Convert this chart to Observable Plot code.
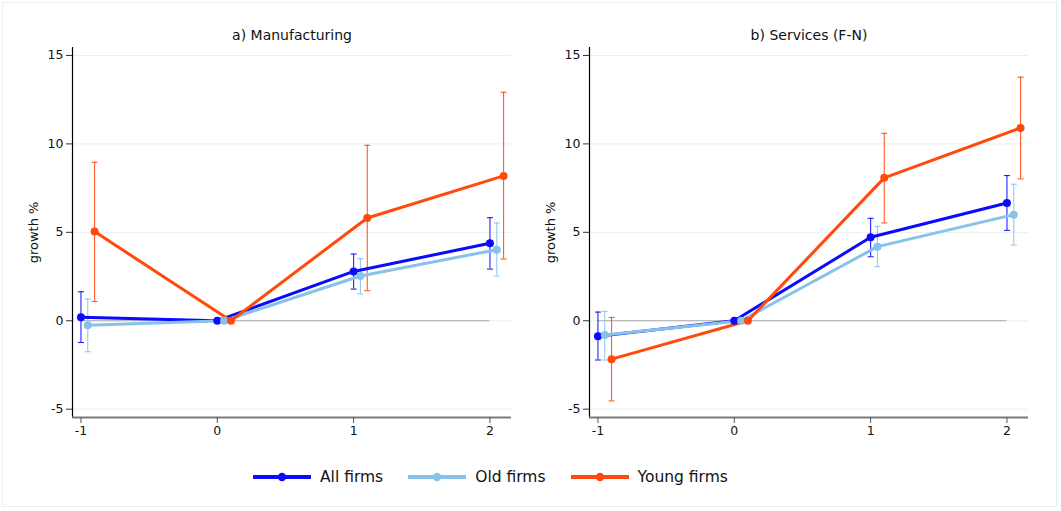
<!DOCTYPE html>
<html>
<head>
<meta charset="utf-8">
<script src="https://cdn.jsdelivr.net/npm/d3@7"></script>
<script src="https://cdn.jsdelivr.net/npm/@observablehq/plot@0.6"></script>
<style>
  html, body { margin: 0; padding: 0; background: #fff; }
  #wrap { position: relative; width: 1061px; height: 511px; overflow: hidden; font-family: "DejaVu Sans", sans-serif; }
  #border { position: absolute; left: 2px; top: 2px; width: 1055px; height: 505px; border: 1px solid #e9f1f1; box-sizing: border-box; }
  .panel { position: absolute; top: 0; }
  #legend { position: absolute; top: 468px; left: 253px; display: flex; align-items: center; font-size: 15.5px; color: #111; }
  #legend .item { display: flex; align-items: center; margin-right: 25px; }
  #legend svg { margin-right: 9px; display: block; }
</style>
</head>
<body>
<div id="wrap">
  <div id="border"></div>
  <div id="left" class="panel" style="left:0px"></div>
  <div id="right" class="panel" style="left:530px"></div>
  <div id="legend"></div>
</div>
<script>
// ---- data ----
const years = [-1, 0, 1, 2];
const seriesNames = ["All firms", "Old firms", "Young firms"];
const seriesColors = ["#0a0aff", "#86c2ea", "#ff4a0c"];
const yTicks = [-5, 0, 5, 10, 15];
const xTicks = [-1, 0, 1, 2];
const panelTitles = ["a) Manufacturing", "b) Services (F-N)"];

// Manufacturing
const mfgAll      = [0.20, 0, 2.79, 4.38];
const mfgAllLo    = [-1.23, 0, 1.79, 2.92];
const mfgAllHi    = [1.64, 0, 3.77, 5.83];
const mfgOld      = [-0.26, 0, 2.53, 4.02];
const mfgOldLo    = [-1.75, 0, 1.51, 2.53];
const mfgOldHi    = [1.23, 0, 3.51, 5.53];
const mfgYoung    = [5.04, 0, 5.81, 8.19];
const mfgYoungLo  = [1.09, 0, 1.70, 3.49];
const mfgYoungHi  = [8.96, 0, 9.92, 12.92];

// Services (F-N)
const svcAll      = [-0.87, 0, 4.72, 6.66];
const svcAllLo    = [-2.22, 0, 3.62, 5.11];
const svcAllHi    = [0.49, 0, 5.79, 8.21];
const svcOld      = [-0.81, 0, 4.19, 6.00];
const svcOldLo    = [-2.22, 0, 3.06, 4.28];
const svcOldHi    = [0.53, 0, 5.34, 7.72];
const svcYoung    = [-2.17, 0, 8.08, 10.90];
const svcYoungLo  = [-4.53, 0, 5.53, 8.02];
const svcYoungHi  = [0.19, 0, 10.60, 13.77];

// ---- build tables ----
const dodge = {"All firms": 0, "Old firms": 0.05, "Young firms": 0.1};
function table(vals, los, his) {
  const rows = [];
  seriesNames.forEach((s, si) => {
    years.forEach((t, i) => {
      rows.push({series: s, t, x: t + dodge[s], y: vals[si][i], lo: los[si][i], hi: his[si][i]});
    });
  });
  return rows;
}
const mfg = table([mfgAll, mfgOld, mfgYoung], [mfgAllLo, mfgOldLo, mfgYoungLo], [mfgAllHi, mfgOldHi, mfgYoungHi]);
const svc = table([svcAll, svcOld, svcYoung], [svcAllLo, svcOldLo, svcYoungLo], [svcAllHi, svcOldHi, svcYoungHi]);

const capSymbol = {
  draw(context, size) {
    const w = Math.sqrt(size / Math.PI);
    context.moveTo(-w, 0);
    context.lineTo(w, 0);
  }
};

const xDomain = [-1.062, 2.158];
const yDomain = [-5.47, 15.45];

function panel(data, title, marginLeft, marginRight) {
  const color = {domain: seriesNames, range: seriesColors};
  const ci = data.filter(d => d.hi !== d.lo);
  return Plot.plot({
    width: 530,
    height: 445,
    marginTop: 47,
    marginBottom: 28,
    marginLeft,
    marginRight,
    style: {fontFamily: "DejaVu Sans, sans-serif", background: "transparent", color: "#111", overflow: "visible"},
    x: {domain: xDomain},
    y: {domain: yDomain},
    color,
    marks: [
      Plot.gridY(yTicks, {stroke: "#e8f0f0", strokeOpacity: 1}),
      Plot.ruleY([0], {x1: -1, x2: 2, stroke: "#a8a8a8", strokeWidth: 1.2}),
      Plot.ruleX([xDomain[0]], {stroke: "#000", strokeWidth: 1.2}),
      Plot.ruleY([yDomain[0]], {stroke: "#7a7a7a", strokeWidth: 2}),
      Plot.axisY(yTicks, {tickSize: 6, tickPadding: 3, fontSize: 12.5, tickFormat: d => String(d), label: null, stroke: "#333"}),
      Plot.axisX(xTicks, {tickSize: 6, tickPadding: 3, fontSize: 12.5, tickFormat: d => String(d), label: null, stroke: "#555"}),
      Plot.ruleX(ci, {x: "x", y1: "lo", y2: "hi", stroke: d => d.series, strokeWidth: 1.1, strokeOpacity: 0.9}),
      Plot.dot(ci, {x: "x", y: "lo", symbol: capSymbol, r: 3, stroke: d => d.series, strokeWidth: 1.1, strokeOpacity: 0.9}),
      Plot.dot(ci, {x: "x", y: "hi", symbol: capSymbol, r: 3, stroke: d => d.series, strokeWidth: 1.1, strokeOpacity: 0.9}),
      Plot.line(data, {x: "x", y: "y", z: "series", stroke: d => d.series, strokeWidth: 3}),
      Plot.dot(data, {x: "x", y: "y", fill: d => d.series, r: 4}),
      Plot.text([title], {frameAnchor: "top", dy: -12, lineAnchor: "middle", fontSize: 14, fill: "#111"}),
      Plot.text(["growth %"], {frameAnchor: "left", dx: -39, rotate: -90, textAnchor: "middle", lineAnchor: "middle", fontSize: 13, fill: "#111"})
    ]
  });
}

document.getElementById("left").append(panel(mfg, panelTitles[0], 72, 19));
document.getElementById("right").append(panel(svc, panelTitles[1], 59, 32));

// ---- legend ----
const legend = document.getElementById("legend");
seriesNames.forEach((s, i) => {
  const item = document.createElement("div");
  item.className = "item";
  const sw = d3.create("svg").attr("width", 58).attr("height", 12);
  sw.append("line").attr("x1", 0).attr("x2", 58).attr("y1", 6).attr("y2", 6).attr("stroke", seriesColors[i]).attr("stroke-width", 4);
  sw.append("circle").attr("cx", 29).attr("cy", 6).attr("r", 4.2).attr("fill", seriesColors[i]);
  item.append(sw.node());
  const label = document.createElement("span");
  label.textContent = s;
  item.append(label);
  legend.append(item);
});
</script>
</body>
</html>
